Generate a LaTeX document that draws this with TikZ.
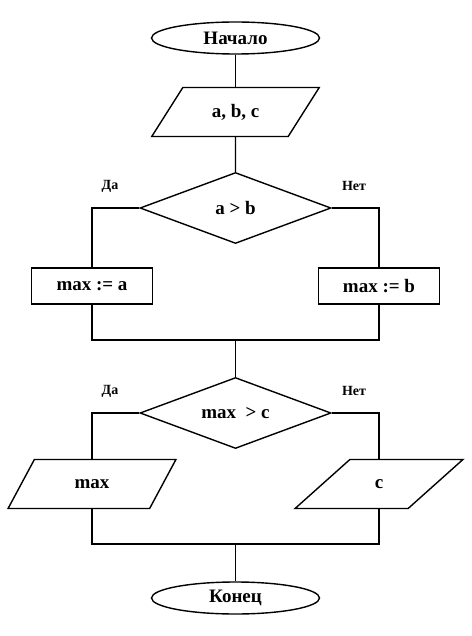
\documentclass[tikz,border=0pt]{standalone}
\usepackage{fontspec}
\setmainfont{Liberation Serif}
\usetikzlibrary{shapes.geometric}

\begin{document}
\begin{tikzpicture}[x=1pt, y=-1pt, line width=1.4pt,
    font=\fontsize{19}{21}\selectfont\bfseries,
    term/.style={draw, ellipse, minimum width=168pt, minimum height=32pt, inner sep=0pt},
    io/.style={draw, trapezium, trapezium left angle=49, trapezium right angle=131,
      trapezium stretches=true, minimum width=168pt, minimum height=49pt, inner sep=0pt},
    cond/.style={draw, diamond, shape aspect=2.7, minimum width=191pt, minimum height=71pt, inner sep=0pt},
    proc/.style={draw, rectangle, minimum width=121pt, minimum height=36pt, inner sep=0pt},
    lbl/.style={font=\fontsize{14}{16}\selectfont\bfseries}]
  \useasboundingbox (0,0) rectangle (471,636);

  % Blocks
  \node[term] (start) at (235.5,38) {Начало};
  \node[io] (input) at (235.5,112) {a, b, c};
  \node[cond] (cmpab) at (235.5,208) {a > b};
  \node[proc] (seta) at (92,286) {max := a};
  \node[proc] (setb) at (379,286) {max := b};
  \node[cond] (cmpc) at (235.5,413) {max~~> c};
  \node[io] (outmax) at (92,484) {max};
  \node[io] (outc) at (379,484) {c};
  \node[term] (stop) at (235.5,598) {Конец};

  % Labels
  \node[lbl] (yes1) at (110,186) {Да};
  \node[lbl] (no1) at (354,186) {Нет};
  \node[lbl] (yes2) at (110,391) {Да};
  \node[lbl] (no2) at (354,391) {Нет};

  % Joins
  \coordinate (join1) at (235.5,340);
  \coordinate (join2) at (235.5,544);

  % Lines
  \draw (start) -- (input);
  \draw (input) -- (cmpab);
  \draw (cmpab.west) -| (seta.north);
  \draw (cmpab.east) -| (setb.north);
  \draw (seta.south) |- (join1) -| (setb.south);
  \draw (join1) -- (cmpc.north);
  \draw (cmpc.west) -| (outmax.north);
  \draw (cmpc.east) -| (outc.north);
  \draw (outmax.south) |- (join2) -| (outc.south);
  \draw (join2) -- (stop.north);
\end{tikzpicture}
\end{document}
